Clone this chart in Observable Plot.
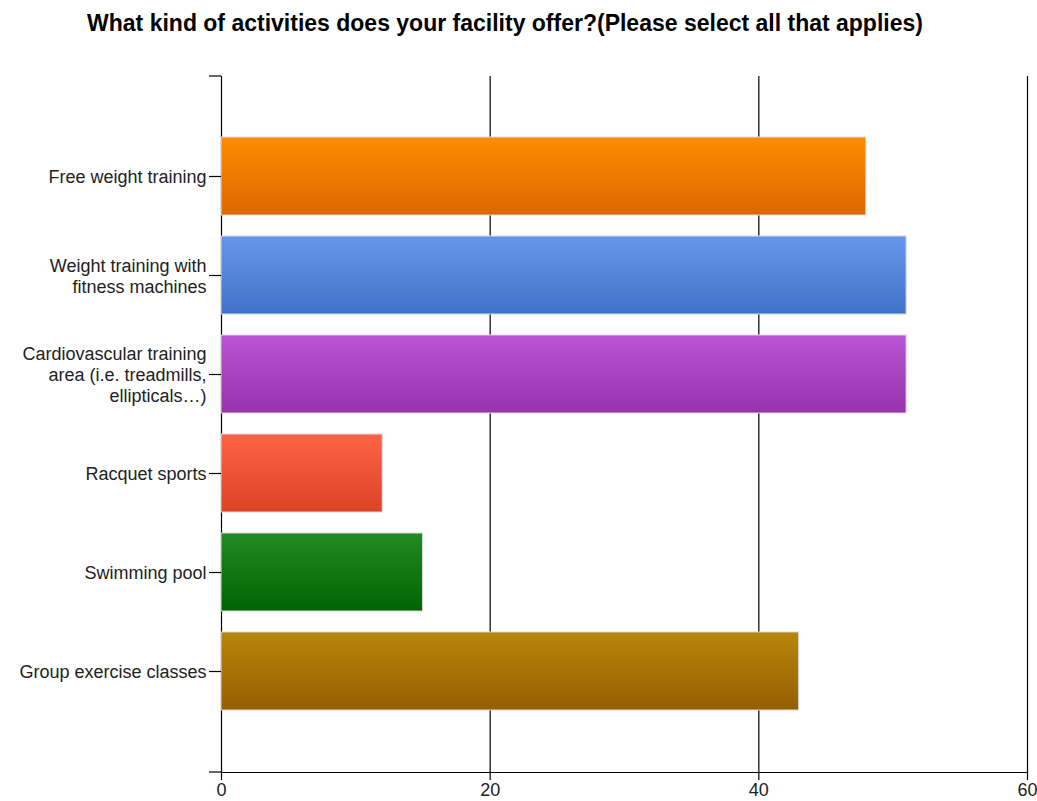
<!DOCTYPE html>
<html>
<head>
<meta charset="utf-8">
<script src="https://cdn.jsdelivr.net/npm/d3@7"></script>
<script src="https://cdn.jsdelivr.net/npm/@observablehq/plot@0.6"></script>
<style>
  html, body { margin: 0; padding: 0; background: #fff; overflow: hidden; }
  #title { height: 45px; line-height: 46px; text-align: center; font-family: "Liberation Sans", Arial, sans-serif; font-weight: bold; font-size: 23px; color: #000; padding-right: 27px; white-space: nowrap; }
  #chart svg { display: block; overflow: visible; }
</style>
</head>
<body>
<div id="title">What kind of activities does your facility offer?(Please select all that applies)</div>
<div id="chart"></div>
<script>
const categories = [
  "Free weight training",
  "Weight training with\nfitness machines",
  "Cardiovascular training\narea (i.e. treadmills,\nellipticals…)",
  "Racquet sports",
  "Swimming pool",
  "Group exercise classes"
];
const values = [48, 51, 51, 12, 15, 43];
const topColors = ["#ff8c00", "#6797ec", "#ba55d3", "#ff6347", "#228b22", "#b8860b"];
const bottomColors = ["#dc6800", "#3f72c8", "#9732ad", "#dc4224", "#006400", "#955f00"];
const xTicks = [0, 20, 40, 60];

const data = categories.map((c, i) => ({category: c, value: values[i], fill: `url(#grad${i})`}));

const plot = Plot.plot({
  width: 1037,
  height: 756,
  marginTop: 31,
  marginBottom: 29,
  marginLeft: 221,
  marginRight: 10,
  style: {fontFamily: "'Liberation Sans', Arial, sans-serif", fontSize: "18px", color: "#000", background: "#fff", overflow: "visible"},
  x: {domain: [0, 60]},
  y: {domain: categories, paddingInner: 0.21, paddingOuter: 0.615},
  color: {type: "identity"},
  marks: [
    Plot.gridX(xTicks.slice(1), {stroke: "#000", strokeOpacity: 1, strokeWidth: 1.2}),
    Plot.ruleX([0], {stroke: "#000", strokeWidth: 1.2}),
    Plot.frame({anchor: "bottom", stroke: "#000", strokeWidth: 1.2}),
    Plot.barX(data, {x: "value", y: "category", fill: "fill", stroke: "#d9d9d9", strokeWidth: 1}),
    Plot.axisX({ticks: xTicks, tickSize: 8, tickPadding: 3, label: null, stroke: "#000", strokeWidth: 1.2, fontSize: 18, fill: "#222"}),
    Plot.axisY({tickSize: 12, tickPadding: 3, label: null, lineHeight: 1.17, stroke: "#000", strokeWidth: 1.2, fontSize: 18, fill: "#222"})
  ]
});

const svg = d3.select(plot);
const defs = svg.insert("defs", ":first-child");
topColors.forEach((c, i) => {
  const g = defs.append("linearGradient").attr("id", `grad${i}`).attr("x1", 0).attr("y1", 0).attr("x2", 0).attr("y2", 1);
  g.append("stop").attr("offset", "0%").attr("stop-color", c);
  g.append("stop").attr("offset", "100%").attr("stop-color", bottomColors[i]);
});
// small extensions of the axis frame at the left top and bottom
const xs = plot.scale("x");
const x0 = xs.apply(0);
const yTop = 31, yBot = 756 - 29;
svg.append("line").attr("x1", x0 - 12).attr("x2", x0).attr("y1", yTop).attr("y2", yTop).attr("stroke", "#000").attr("stroke-width", 1.2);
svg.append("line").attr("x1", x0 - 12).attr("x2", x0).attr("y1", yBot).attr("y2", yBot).attr("stroke", "#000").attr("stroke-width", 1.2);

document.getElementById("chart").appendChild(plot);
</script>
</body>
</html>
